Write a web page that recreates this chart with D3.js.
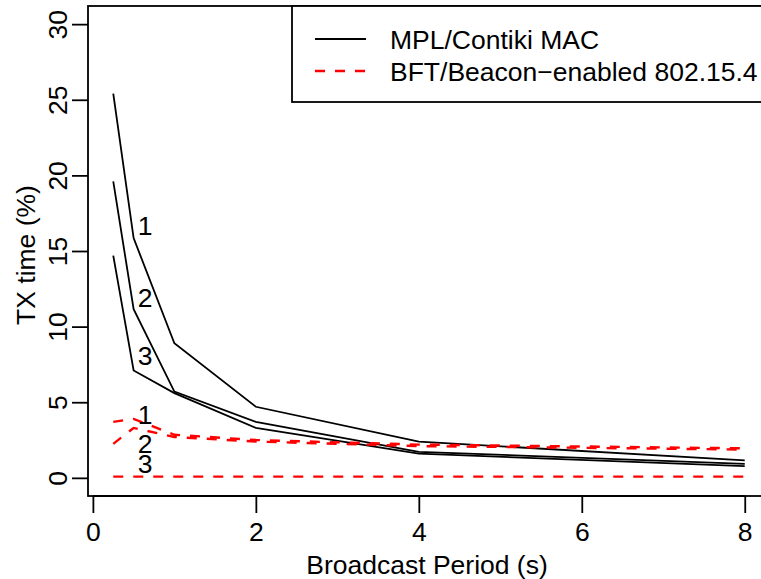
<!DOCTYPE html>
<html>
<head>
<meta charset="utf-8">
<script src="https://cdn.jsdelivr.net/npm/d3@7"></script>
<style>
  body { margin: 0; background: #fff; }
  svg { display: block; font-family: "Liberation Sans", Arial, Helvetica, sans-serif; }
</style>
</head>
<body>
<script>
// broadcast periods (s)
var periods = [0.25, 0.5, 1, 2, 4, 8];

// TX time (%), MPL/Contiki MAC
var mpl1 = [25.4, 15.85, 8.9, 4.7, 2.4, 1.15];
var mpl2 = [19.6, 11.15, 5.7, 3.7, 1.72, 0.93];
var mpl3 = [14.7, 7.1, 5.6, 3.3, 1.6, 0.78];

// BFT/Beacon-enabled 802.15.4
var bft1 = [3.7, 3.9, 2.85, 2.5, 2.2, 1.95];
var bft2 = [2.25, 3.3, 2.7, 2.4, 2.1, 1.87];
var bft3 = [0.08, 0.08, 0.08, 0.08, 0.08, 0.08];

// series number labels [x, y, text]
var mplLabels = [[0.64, 16.7, "1"], [0.64, 11.9, "2"], [0.64, 8.1, "3"]];
var bftLabels = [[0.64, 4.2, "1"], [0.64, 2.3, "2"], [0.64, 0.95, "3"]];

var xTicks = [0, 2, 4, 6, 8];
var yTicks = [0, 5, 10, 15, 20, 25, 30];
var legendNames = ["MPL/Contiki MAC", "BFT/Beacon\u2212enabled 802.15.4"];

var width = 761, height = 579;
var fontSize = 26.5;

var svg = d3.select("body").append("svg")
    .attr("width", width)
    .attr("height", height);

svg.append("rect").attr("width", width).attr("height", height).attr("fill", "#fff");

//plot region (R style 4% padding around xlim/ylim)
var x = d3.scaleLinear().domain([-0.06, 8.31]).range([88, 770]);
var y = d3.scaleLinear().domain([-1.2, 31.2]).range([496, 6]);

var line = d3.line()
    .x(function(d, i){ return x(periods[i]); })
    .y(function(d){ return y(d); });

//MPL lines, solid black
[mpl1, mpl2, mpl3].forEach(function(s){
    svg.append("path")
        .datum(s)
        .attr("d", line)
        .attr("fill", "none")
        .attr("stroke", "#000")
        .attr("stroke-width", 1.8);
});

//BFT lines, dashed red
[bft1, bft2, bft3].forEach(function(s){
    svg.append("path")
        .datum(s)
        .attr("d", line)
        .attr("fill", "none")
        .attr("stroke", "#ff0000")
        .attr("stroke-width", 2.4)
        .attr("stroke-dasharray", "10,10");
});

//number labels
svg.selectAll(".num")
    .data(mplLabels.concat(bftLabels))
    .enter()
    .append("text")
    .attr("class", "num")
    .attr("x", function(d){ return x(d[0]); })
    .attr("y", function(d){ return y(d[1]); })
    .attr("dy", "0.36em")
    .attr("text-anchor", "middle")
    .attr("font-size", fontSize)
    .text(function(d){ return d[2]; });

//axes
var xAxis = svg.append("g")
    .attr("transform", "translate(0,496)")
    .call(d3.axisBottom(x).tickValues(xTicks).tickSize(17).tickPadding(9));
xAxis.selectAll("text").attr("font-size", fontSize).attr("fill", "#000").attr("font-family", null);

var yAxis = svg.append("g")
    .attr("transform", "translate(88,0)")
    .call(d3.axisLeft(y).tickValues(yTicks).tickSize(16));
yAxis.selectAll(".tick text")
    .attr("font-size", fontSize)
    .attr("fill", "#000")
    .attr("font-family", null)
    .attr("x", null).attr("dy", null)
    .attr("text-anchor", "middle")
    .attr("transform", "translate(-31,0) rotate(-90)")
    .attr("dy", "0.36em");

[xAxis, yAxis].forEach(function(g){
    g.select(".domain").remove();
    g.selectAll("line").attr("stroke", "#000").attr("stroke-width", 1.8);
});

//axis line from first to last tick, like R
svg.append("line")
    .attr("x1", x(0)).attr("x2", x(8))
    .attr("y1", 496).attr("y2", 496)
    .attr("stroke", "#000").attr("stroke-width", 1.8);

//box around the plot region
svg.append("rect")
    .attr("x", 88).attr("y", 6)
    .attr("width", 770 - 88).attr("height", 490)
    .attr("fill", "none")
    .attr("stroke", "#000")
    .attr("stroke-width", 1.8);

//axis titles
svg.append("text")
    .attr("x", (88 + 770) / 2 - 2)
    .attr("y", 564)
    .attr("dy", "0.36em")
    .attr("text-anchor", "middle")
    .attr("font-size", fontSize)
    .text("Broadcast Period (s)");

svg.append("text")
    .attr("transform", "translate(25,255) rotate(-90)")
    .attr("dy", "0.36em")
    .attr("text-anchor", "middle")
    .attr("font-size", fontSize)
    .text("TX time (%)");

//legend
var legend = svg.append("g");
legend.append("rect")
    .attr("x", 292).attr("y", 6)
    .attr("width", 500).attr("height", 96)
    .attr("fill", "#fff")
    .attr("stroke", "#000")
    .attr("stroke-width", 1.8);

var legendRows = legend.selectAll(".row")
    .data(legendNames)
    .enter()
    .append("g")
    .attr("class", "row")
    .attr("transform", function(d, i){ return "translate(0," + (39 + i * 32) + ")"; });

legendRows.append("line")
    .attr("x1", 315).attr("x2", 366)
    .attr("stroke", function(d, i){ return i == 0 ? "#000" : "#ff0000"; })
    .attr("stroke-width", function(d, i){ return i == 0 ? 1.8 : 2.4; })
    .attr("stroke-dasharray", function(d, i){ return i == 0 ? null : "10,10"; });

legendRows.append("text")
    .attr("x", 390)
    .attr("dy", "0.36em")
    .attr("font-size", fontSize)
    .text(function(d){ return d; });
</script>
</body>
</html>
